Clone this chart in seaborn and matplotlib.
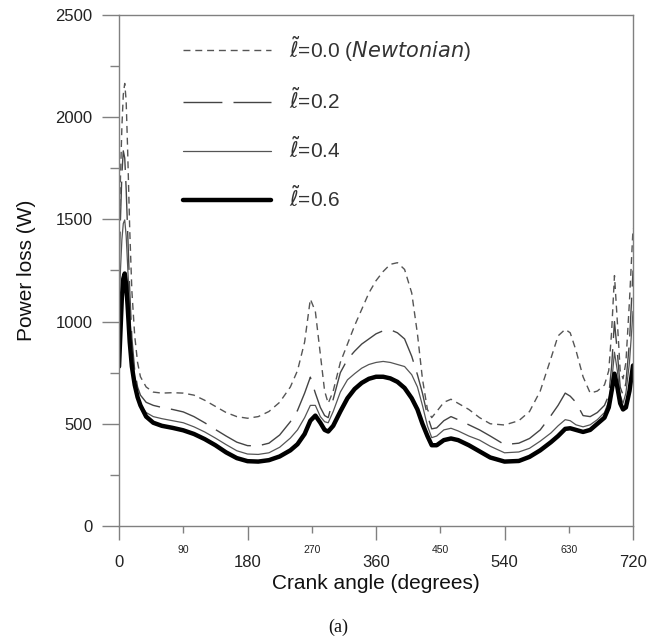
import matplotlib
matplotlib.use("Agg")
import matplotlib.pyplot as plt
import seaborn as sns
import numpy as np
import pandas as pd
from matplotlib.ticker import MultipleLocator, FixedLocator

# ---------------- data ----------------
angle = [0, 2, 4, 6, 8, 10, 12, 15, 18, 22, 26, 30, 38, 48, 60, 75, 90, 105, 120,
         135, 150, 165, 180, 195, 210, 225, 240, 250, 260, 268, 275, 282, 288, 293,
         300, 310, 320, 330, 340, 350, 360, 370, 380, 390, 400, 410, 418, 425, 432,
         438, 445, 455, 465, 475, 490, 505, 520, 540, 560, 575, 590, 605, 615, 625,
         632, 640, 650, 660, 670, 680, 686, 690, 694, 698, 702, 706, 710, 715, 720]

loss_l00 = [1450, 1700, 1950, 2110, 2165, 2080, 1850, 1450, 1150, 930, 800, 730, 680,
            655, 650, 652, 650, 640, 615, 585, 555, 535, 527, 535, 560, 605, 680, 760,
            900, 1110, 1050, 840, 660, 600, 660, 800, 890, 980, 1060, 1140, 1200, 1245,
            1280, 1288, 1255, 1140, 940, 720, 570, 530, 560, 605, 620, 600, 570, 530,
            500, 494, 515, 560, 660, 820, 930, 962, 945, 860, 730, 650, 660, 690, 760,
            950, 1225, 1000, 760, 720, 800, 1100, 1455]

loss_l02 = [1250, 1500, 1720, 1835, 1800, 1650, 1450, 1150, 920, 760, 680, 640, 605,
            590, 580, 570, 558, 535, 505, 472, 440, 410, 393, 392, 405, 445, 510, 565,
            650, 728, 650, 580, 540, 530, 620, 750, 815, 855, 890, 915, 940, 955, 960,
            945, 915, 830, 740, 650, 540, 475, 480, 515, 535, 520, 495, 470, 440, 398,
            405, 428, 470, 540, 590, 650, 635, 605, 540, 535, 555, 590, 640, 780, 1000,
            850, 680, 640, 700, 900, 1250]

loss_l04 = [1050, 1250, 1400, 1480, 1497, 1420, 1280, 1050, 860, 720, 640, 590, 555,
            535, 525, 515, 505, 485, 460, 430, 398, 368, 352, 350, 358, 385, 430, 470,
            530, 590, 590, 535, 510, 505, 560, 655, 715, 745, 772, 790, 800, 805, 800,
            790, 780, 740, 680, 590, 490, 432, 440, 470, 478, 465, 440, 420, 390, 358,
            362, 380, 415, 455, 490, 520, 515, 495, 485, 495, 520, 555, 610, 700, 850,
            760, 640, 600, 650, 800, 1050]

loss_l06 = [780, 950, 1120, 1210, 1235, 1180, 1080, 900, 780, 690, 630, 590, 535,
            505, 490, 480, 468, 450, 425, 395, 360, 332, 317, 315, 322, 340, 370, 400,
            450, 515, 540, 505, 470, 462, 490, 560, 625, 670, 700, 720, 730, 730, 722,
            705, 675, 625, 570, 500, 440, 395, 395, 420, 428, 420, 395, 365, 335, 315,
            318, 338, 370, 410, 440, 475, 478, 470, 460, 470, 500, 530, 580, 660, 745,
            680, 600, 570, 580, 660, 785]

labels = [r'$\tilde{\ell}$=0.0 ($\it{Newtonian}$)', r'$\tilde{\ell}$=0.2',
          r'$\tilde{\ell}$=0.4', r'$\tilde{\ell}$=0.6']

major_x = [0, 180, 360, 540, 720]
minor_x = [90, 270, 450, 630]
y_ticks = [0, 500, 1000, 1500, 2000, 2500]

# ---------------- styling ----------------
sns.set_style("white")
plt.rcParams['font.family'] = ['Liberation Sans', 'DejaVu Sans']
plt.rcParams['mathtext.fontset'] = 'dejavusans'

fig = plt.figure(figsize=(6.59, 6.36), dpi=100)
ax = fig.add_axes([0.1806, 0.1730, 0.7800, 0.8035])

styles = [
    dict(color='#555555', lw=1.0, linestyle=(0, (5, 3.5))),
    dict(color='#444444', lw=1.0, linestyle=(0, (28, 8))),
    dict(color='#555555', lw=0.9, linestyle='-'),
    dict(color='#000000', lw=3.2, linestyle='-'),
]
series = [loss_l00, loss_l02, loss_l04, loss_l06]
for vals, lab, st in zip(series, labels, styles):
    df = pd.DataFrame({'angle': angle, 'loss': vals})
    sns.lineplot(data=df, x='angle', y='loss', ax=ax, label=lab,
                 errorbar=None, **st)

ax.set_xlim(0, 720)
ax.set_ylim(0, 2500)

ax.xaxis.set_major_locator(FixedLocator(major_x))
ax.xaxis.set_minor_locator(FixedLocator(minor_x))
ax.set_xticklabels([str(v) for v in major_x])
ax.set_xticklabels([str(v) for v in minor_x], minor=True)
ax.yaxis.set_major_locator(FixedLocator(y_ticks))
ax.yaxis.set_minor_locator(MultipleLocator(250))
ax.set_yticklabels([str(v) for v in y_ticks])

spine_c = '#808080'
for s in ax.spines.values():
    s.set_color(spine_c)
    s.set_linewidth(1.0)

ax.tick_params(axis='x', which='major', direction='out', length=10, width=1,
               color=spine_c, labelsize=12, pad=11, labelcolor='#222222', bottom=True)
ax.tick_params(axis='x', which='minor', direction='out', length=5, width=1,
               color=spine_c, labelsize=7.5, pad=9, labelcolor='#222222', bottom=True)
ax.tick_params(axis='y', which='major', direction='out', length=12, width=1,
               color=spine_c, labelsize=12, pad=7, labelcolor='#222222', left=True)
ax.tick_params(axis='y', which='minor', direction='out', length=6.5, width=1,
               color=spine_c, left=True)

ax.set_xlabel('Crank angle (degrees)', fontsize=15, color='#111111', labelpad=3)
ax.set_ylabel('Power loss (W)', fontsize=15, color='#111111', labelpad=14)

leg = ax.legend(loc='upper left', bbox_to_anchor=(0.1245, 0.963), frameon=False,
                fontsize=15, handlelength=4.2, handletextpad=0.9,
                labelspacing=1.12, borderpad=0, borderaxespad=0)
for t in leg.get_texts():
    t.set_color('#333333')

fig.text(0.513, 0.014, '(a)', fontsize=13, family='Liberation Serif',
         ha='center', va='center', color='#111111')

fig.savefig('out.png', dpi=100)
